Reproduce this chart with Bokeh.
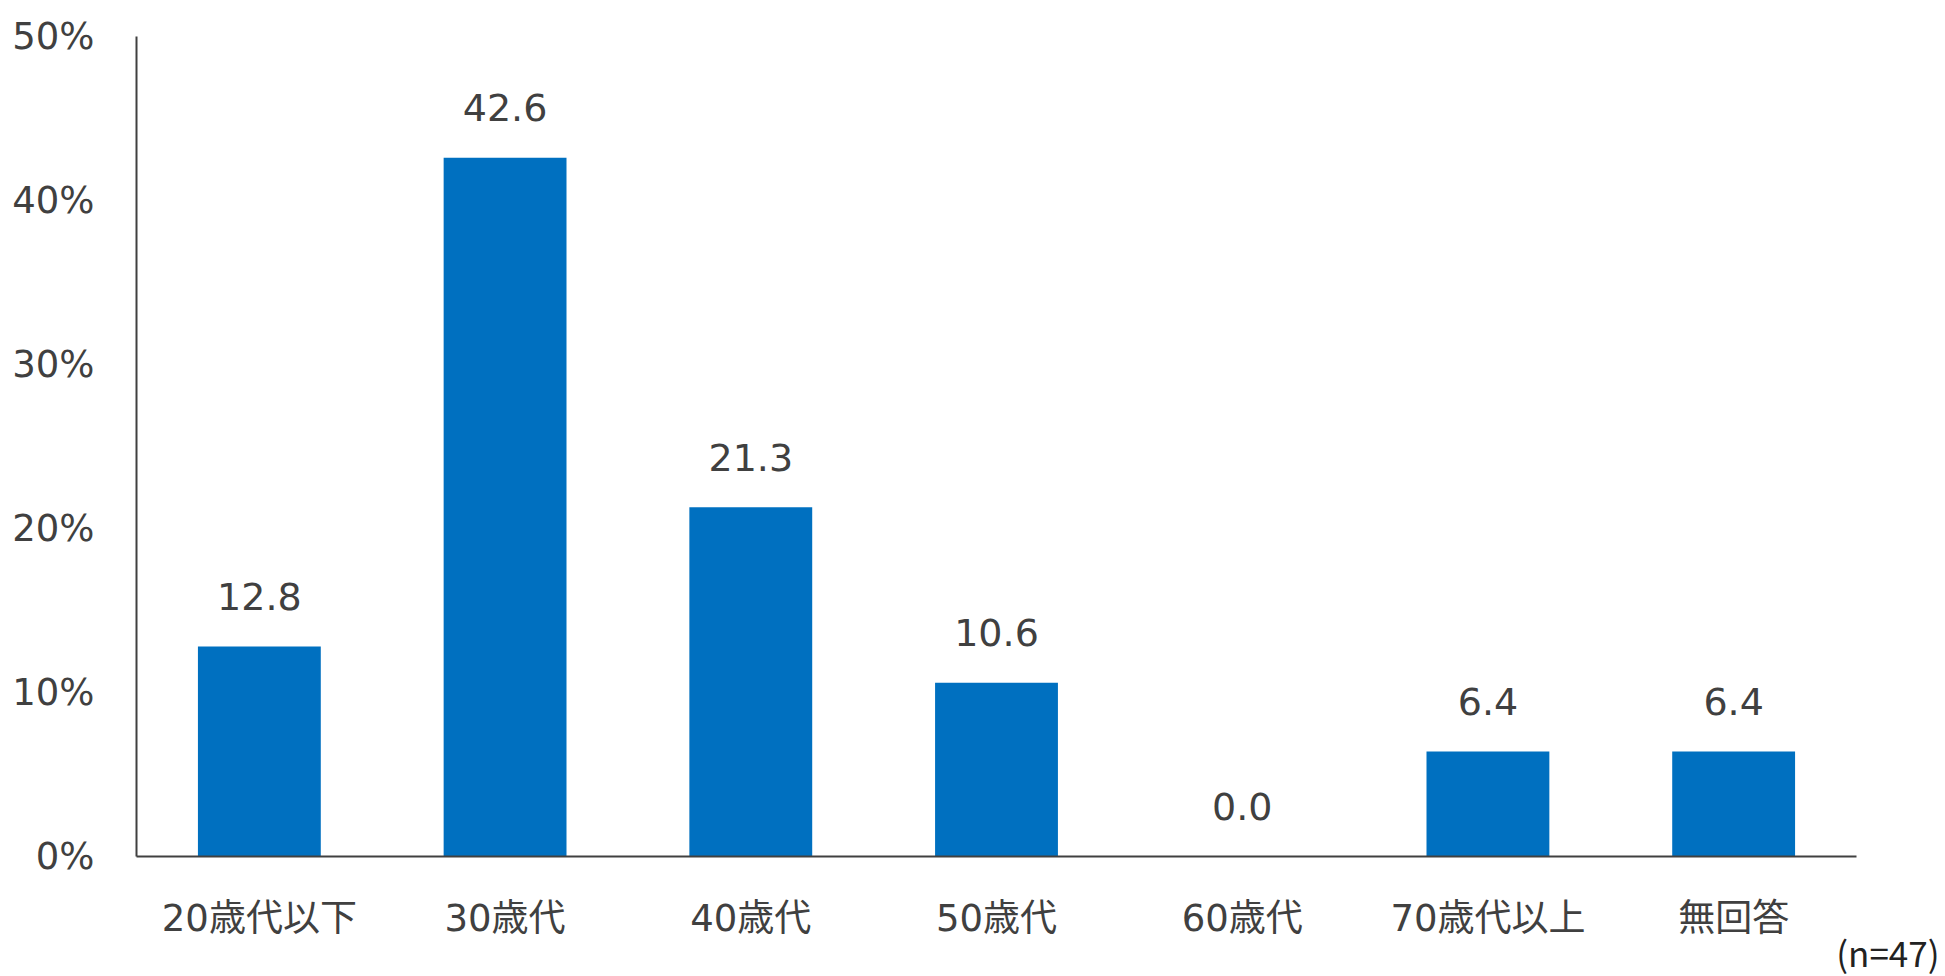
from bokeh.plotting import figure
from bokeh.models import ColumnDataSource, Range1d, FixedTicker, Title
from bokeh.core.properties import value
from bokeh.embed import file_html
from bokeh.resources import INLINE

categories = ["20歳代以下", "30歳代", "40歳代", "50歳代", "60歳代", "70歳代以上", "無回答"]
values = [12.8, 42.6, 21.3, 10.6, 0.0, 6.4, 6.4]
y_ticks = [0, 10, 20, 30, 40, 50]
y_tick_labels = {t: f"{t}%" for t in y_ticks}
note = "(n=47)"

BAR = "#0070C0"
TXT = "#404040"
AXC = "#404040"
NUMFONT = "DejaVu Sans, 'Noto Sans CJK JP'"

src = ColumnDataSource(dict(cat=categories, val=values, lab=[f"{v:.1f}" for v in values]))

p = figure(x_range=categories, y_range=Range1d(0, 50), width=1944, height=976,
           output_backend="svg", toolbar_location=None,
           min_border_left=136, min_border_right=88, min_border_top=36, min_border_bottom=120)
p.x_range.range_padding = 0
p.outline_line_color = None
p.grid.visible = False
p.background_fill_color = "white"
p.border_fill_color = "white"

p.vbar(x="cat", top="val", width=0.5, source=src, fill_color=BAR, line_color=None)
p.text(x="cat", y="val", text="lab", source=src, text_align="center",
       text_baseline="alphabetic", y_offset=-50, text_font_size="38px",
       text_color=TXT, text_font=value("DejaVu Sans"))

p.yaxis.ticker = FixedTicker(ticks=y_ticks)
p.yaxis.major_label_overrides = y_tick_labels
for ax in (p.xaxis, p.yaxis):
    ax.major_tick_line_color = None
    ax.minor_tick_line_color = None
    ax.major_tick_out = 0
    ax.major_tick_in = 0
    ax.axis_line_color = AXC
    ax.axis_line_width = 2
    ax.major_label_text_color = TXT
    ax.major_label_text_font_size = "37px"
    ax.major_label_text_font = NUMFONT
    ax.major_label_standoff = 40
p.yaxis.major_label_standoff = 42

p.add_layout(Title(text=note, align="right", offset=-83, standoff=-38,
                   text_font_size="35px", text_color="#222222", text_font_style="normal",
                   text_font="Noto Sans CJK JP"), "below")

open("out.html", "w").write(file_html(p, INLINE))
